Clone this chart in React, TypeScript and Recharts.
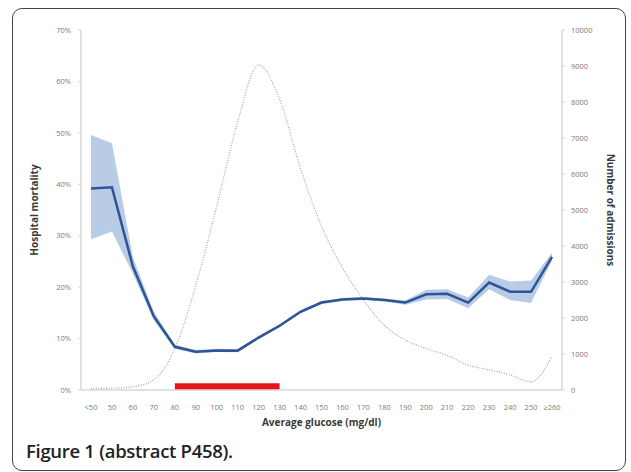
import {
  ComposedChart,
  Area,
  Line,
  XAxis,
  YAxis,
  ReferenceArea,
  Label,
} from "recharts";

// glucose bands (mg/dl)
const categories = [
  "<50", "50", "60", "70", "80", "90", "100", "110", "120", "130", "140", "150",
  "160", "170", "180", "190", "200", "210", "220", "230", "240", "250", "≥260",
];

// hospital mortality (%) with its confidence band
const mortality = [
  39.2, 39.4, 24.0, 14.3, 8.4, 7.45, 7.7, 7.65, 10.2, 12.5, 15.2, 17.0,
  17.6, 17.8, 17.5, 17.0, 18.6, 18.7, 17.0, 20.9, 19.1, 19.1, 25.9,
];
const ciLow = [
  29.3, 30.8, 22.6, 13.5, 8.0, 7.1, 7.4, 7.35, 9.9, 12.2, 14.9, 16.7,
  17.3, 17.5, 17.2, 16.6, 17.6, 17.7, 15.9, 19.6, 17.5, 16.9, 25.2,
];
const ciHigh = [
  49.6, 48.0, 25.8, 15.2, 8.8, 7.8, 8.0, 7.95, 10.5, 12.8, 15.5, 17.3,
  17.9, 18.1, 17.8, 17.4, 19.5, 19.6, 18.0, 22.4, 21.1, 21.3, 26.7,
];

// number of admissions (right axis)
const admissions = [
  40, 50, 90, 280, 1150, 2900, 5100, 7450, 9030, 8080, 6150, 4550,
  3400, 2500, 1800, 1390, 1150, 960, 690, 560, 420, 230, 925,
];

const mortalityTicks = [0, 10, 20, 30, 40, 50, 60, 70];
const admissionTicks = [0, 1000, 2000, 3000, 4000, 5000, 6000, 7000, 8000, 9000, 10000];

// target range shown by the red bar
const targetFrom = "80";
const targetTo = "130";
const targetBar = [0, 1.3];

const data = categories.map((c, i) => ({
  glucose: c,
  mortality: mortality[i],
  ci: [ciLow[i], ciHigh[i]],
  admissions: admissions[i],
}));

const tickStyle = { fontSize: 7.5, fill: "#7a7a7a", fontFamily: "Open Sans" };
const titleStyle = {
  fontSize: 10,
  fontWeight: 700,
  fill: "#3a3a3a",
  fontFamily: "Open Sans",
};

const title =
  (text: string, kind: "left" | "right" | "bottom") => (props: any) => {
    const { x, y, width, height } = props.viewBox;
    let cx = x + width / 2;
    let cy = y + height / 2;
    let angle = 0;
    if (kind === "left") {
      cx = x - 2;
      angle = -90;
    } else if (kind === "right") {
      cx = x + 49;
      angle = 90;
    } else {
      cy = y + 32;
    }
    return (
      <text
        x={cx}
        y={cy}
        textAnchor="middle"
        dominantBaseline="central"
        transform={`rotate(${angle} ${cx} ${cy})`}
        style={titleStyle}
      >
        {text}
      </text>
    );
  };

export default function App() {
  return (
    <div
      style={{
        position: "absolute",
        left: 0,
        top: 0,
        width: 631,
        height: 472,
        overflow: "hidden",
        background: "#fff",
      }}
    >
      <div
        style={{
          position: "absolute",
          left: 12,
          top: 8,
          width: 614,
          height: 463,
          border: "1px solid #444",
          borderRadius: 10,
          boxSizing: "border-box",
        }}
      />
      <div style={{ position: "absolute", left: 0, top: 0 }}>
        <ComposedChart
          width={631}
          height={472}
          data={data}
          margin={{ top: 30, right: 24, left: 36, bottom: 52 }}
        >
          <XAxis
            dataKey="glucose"
            interval={0}
            padding={{ left: 10, right: 10 }}
            tick={tickStyle}
            tickLine={false}
            tickMargin={9}
            height={30}
            axisLine={{ stroke: "#d9d9d9", strokeWidth: 1.5 }}
          >
            <Label content={title("Average glucose (mg/dl)", "bottom")} />
          </XAxis>
          <YAxis
            yAxisId="left"
            domain={[0, 70]}
            ticks={mortalityTicks}
            tickFormatter={(v) => `${v}%`}
            tick={tickStyle}
            tickSize={3}
            tickMargin={7}
            width={45}
            axisLine={{ stroke: "#d9d9d9", strokeWidth: 1.5 }}
            tickLine={{ stroke: "#d9d9d9" }}
          >
            <Label content={title("Hospital mortality", "left")} />
          </YAxis>
          <YAxis
            yAxisId="right"
            orientation="right"
            domain={[0, 10000]}
            ticks={admissionTicks}
            tick={tickStyle}
            tickSize={3}
            tickMargin={6}
            width={45}
            axisLine={{ stroke: "#d9d9d9", strokeWidth: 1.5 }}
            tickLine={{ stroke: "#d9d9d9" }}
          >
            <Label content={title("Number of admissions", "right")} />
          </YAxis>
          <Area
            yAxisId="left"
            dataKey="ci"
            type="linear"
            stroke="none"
            fill="#b8cce6"
            fillOpacity={1}
            isAnimationActive={false}
          />
          <Line
            yAxisId="right"
            dataKey="admissions"
            type="monotone"
            stroke="#8eaadb"
            strokeWidth={1.2}
            strokeDasharray="1 1.5"
            dot={false}
            isAnimationActive={false}
          />
          <Line
            yAxisId="left"
            dataKey="mortality"
            type="linear"
            stroke="#2f5496"
            strokeWidth={2.5}
            dot={false}
            isAnimationActive={false}
          />
          <ReferenceArea
            yAxisId="left"
            x1={targetFrom}
            x2={targetTo}
            y1={targetBar[0]}
            y2={targetBar[1]}
            fill="#e8141c"
            fillOpacity={1}
            stroke="none"
            ifOverflow="visible"
          />
        </ComposedChart>
      </div>
      <div
        style={{
          position: "absolute",
          left: 26,
          top: 438,
          fontFamily: "Open Sans",
          fontWeight: 600,
          fontSize: 18.5,
          color: "#222",
          letterSpacing: -0.3,
        }}
      >
        Figure 1 (abstract P458).
      </div>
    </div>
  );
}
